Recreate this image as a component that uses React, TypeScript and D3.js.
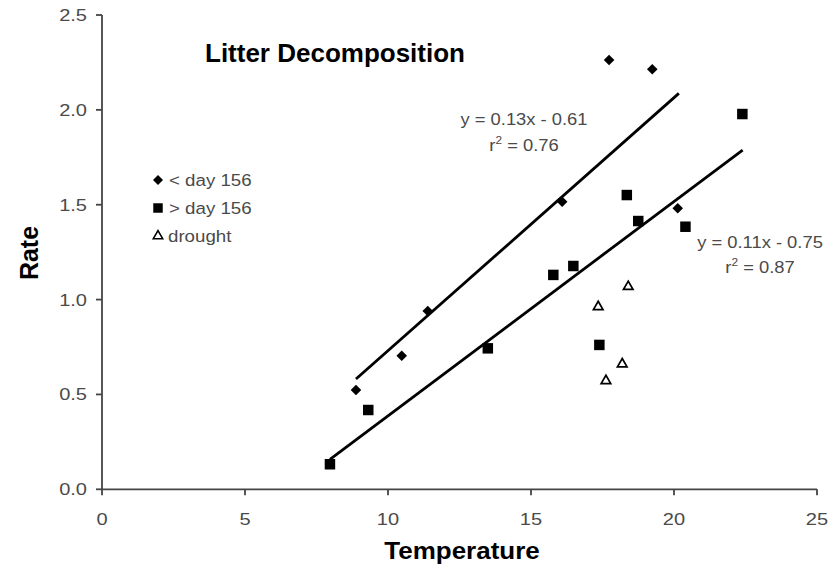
import React from "react";
import * as d3 from "d3";

const earlyTemp = [8.88, 10.48, 11.39, 16.09, 17.73, 19.24, 20.13];
const earlyRate = [0.523, 0.704, 0.94, 1.516, 2.263, 2.214, 1.481];

const lateTemp = [7.97, 9.31, 13.49, 15.78, 16.48, 17.39, 18.35, 18.75, 20.4, 22.39];
const lateRate = [0.132, 0.418, 0.743, 1.13, 1.177, 0.761, 1.551, 1.414, 1.384, 1.978];

const droughtTemp = [17.35, 18.4, 18.19, 17.62];
const droughtRate = [0.962, 1.068, 0.66, 0.572];

const earlyFitTemp = [8.88, 20.17];
const earlyFitRate = [0.581, 2.087];
const lateFitTemp = [7.97, 22.4];
const lateFitRate = [0.158, 1.788];

const xTicks = [0, 5, 10, 15, 20, 25];
const yTicks = [0, 0.5, 1.0, 1.5, 2.0, 2.5];

const legendLabels = ["< day 156", "> day 156", "drought"];

const FONT = "'Liberation Sans', Arial, Helvetica, sans-serif";

export default function App() {
  const x = d3.scaleLinear().domain([0, 25]).range([102, 817]);
  const y = d3.scaleLinear().domain([0, 2.5]).range([489.3, 15]);
  const line = d3
    .line<[number, number]>()
    .x((d) => x(d[0]))
    .y((d) => y(d[1]));

  const diamondPath = d3.symbol(d3.symbolSquare, 56)() as string;
  const squarePath = d3.symbol(d3.symbolSquare, 110)() as string;
  const trianglePath = d3.symbol(d3.symbolTriangle, 40)() as string;
  const legDiamond = d3.symbol(d3.symbolSquare, 50)() as string;
  const legSquare = d3.symbol(d3.symbolSquare, 90)() as string;
  const legTriangle = d3.symbol(d3.symbolTriangle, 38)() as string;

  const axisColor = "#444";
  const textGray = "#4a4a4a";
  const fmt = d3.format(".1f");

  const earlyFit = earlyFitTemp.map((t, i) => [t, earlyFitRate[i]] as [number, number]);
  const lateFit = lateFitTemp.map((t, i) => [t, lateFitRate[i]] as [number, number]);

  const legendY = [180, 208, 236];

  return (
    <svg
      width={839}
      height={568}
      style={{ position: "absolute", left: 0, top: 0, background: "#fff" }}
      fontFamily={FONT}
    >
      <rect width={839} height={568} fill="#fff" />
      {/* axes */}
      <line x1={x(0)} x2={x(0)} y1={y(0)} y2={y(2.5)} stroke={axisColor} strokeWidth={1.8} />
      <line x1={x(0)} x2={x(25)} y1={y(0)} y2={y(0)} stroke={axisColor} strokeWidth={1.8} />
      {yTicks.map((t) => (
        <g key={"y" + t}>
          <line x1={x(0) - 6} x2={x(0)} y1={y(t)} y2={y(t)} stroke={axisColor} strokeWidth={1.8} />
          <text
            transform={`translate(87,${y(t) + 6}) scale(1.18,1)`}
            textAnchor="end"
            fontSize={17}
            fill={textGray}
          >
            {fmt(t)}
          </text>
        </g>
      ))}
      {xTicks.map((t) => (
        <g key={"x" + t}>
          <line x1={x(t)} x2={x(t)} y1={y(0)} y2={y(0) + 6} stroke={axisColor} strokeWidth={1.8} />
          <text
            transform={`translate(${x(t)},525) scale(1.18,1)`}
            textAnchor="middle"
            fontSize={17}
            fill={textGray}
          >
            {t}
          </text>
        </g>
      ))}

      {/* fit lines */}
      <path d={line(earlyFit) as string} stroke="#000" strokeWidth={2.8} fill="none" />
      <path d={line(lateFit) as string} stroke="#000" strokeWidth={2.8} fill="none" />

      {/* points */}
      {earlyTemp.map((t, i) => (
        <path
          key={"e" + i}
          d={diamondPath}
          transform={`translate(${x(t)},${y(earlyRate[i])}) rotate(45)`}
          fill="#000"
        />
      ))}
      {lateTemp.map((t, i) => (
        <path
          key={"l" + i}
          d={squarePath}
          transform={`translate(${x(t)},${y(lateRate[i])})`}
          fill="#000"
        />
      ))}
      {droughtTemp.map((t, i) => (
        <path
          key={"d" + i}
          d={trianglePath}
          transform={`translate(${x(t)},${y(droughtRate[i])})`}
          fill="#fff"
          stroke="#000"
          strokeWidth={1.7}
        />
      ))}

      {/* legend */}
      <path d={legDiamond} transform={`translate(158,${legendY[0]}) rotate(45)`} fill="#000" />
      <path d={legSquare} transform={`translate(158,${legendY[1]})`} fill="#000" />
      <path
        d={legTriangle}
        transform={`translate(158,${legendY[2]})`}
        fill="#fff"
        stroke="#000"
        strokeWidth={1.6}
      />
      {legendLabels.map((lab, i) => (
        <text
          key={lab}
          transform={`translate(${i === 2 ? 168 : 169},${legendY[i] + 5.5}) scale(1.1,1)`}
          fontSize={17}
          fill={textGray}
        >
          {lab}
        </text>
      ))}

      {/* equations */}
      <text transform="translate(524,125) scale(1.08,1)" textAnchor="middle" fontSize={17} fill={textGray}>
        y = 0.13x - 0.61
      </text>
      <text transform="translate(524,151) scale(1.08,1)" textAnchor="middle" fontSize={17} fill={textGray}>
        r<tspan fontSize={11} dy={-7}>2</tspan>
        <tspan dy={7}> = 0.76</tspan>
      </text>
      <text transform="translate(760,248) scale(1.08,1)" textAnchor="middle" fontSize={17} fill={textGray}>
        y = 0.11x - 0.75
      </text>
      <text transform="translate(760,273) scale(1.08,1)" textAnchor="middle" fontSize={17} fill={textGray}>
        r<tspan fontSize={11} dy={-7}>2</tspan>
        <tspan dy={7}> = 0.87</tspan>
      </text>

      {/* titles */}
      <text transform="translate(205,62) scale(1.04,1)" fontSize={25} fontWeight="bold" fill="#000">
        Litter Decomposition
      </text>
      <text
        transform="translate(38,253) rotate(-90)"
        textAnchor="middle"
        fontSize={25}
        fontWeight="bold"
        fill="#000"
      >
        Rate
      </text>
      <text
        transform="translate(462,559) scale(1.13,1)"
        textAnchor="middle"
        fontSize={23}
        fontWeight="bold"
        fill="#000"
      >
        Temperature
      </text>
    </svg>
  );
}
